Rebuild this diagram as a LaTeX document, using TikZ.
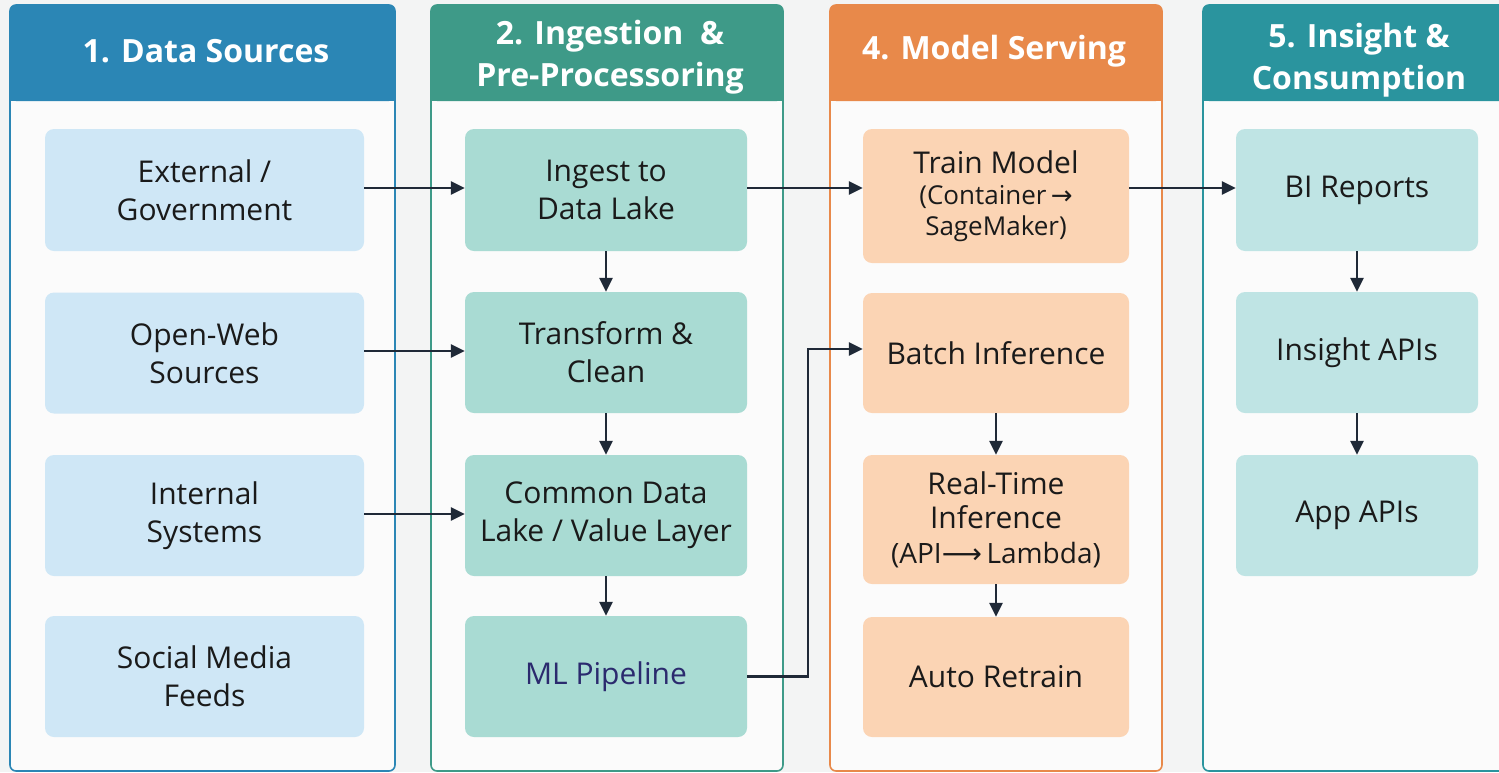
\documentclass[tikz,border=0pt]{standalone}
\usepackage{fontspec}
\setmainfont{Open Sans}
\newfontfamily\symfont{DejaVu Sans}
\usetikzlibrary{arrows.meta}
\definecolor{bgc}{HTML}{F3F4F4}
\definecolor{panelc}{HTML}{FBFBFB}
\definecolor{hA}{HTML}{2B86B5}
\definecolor{hB}{HTML}{3E9A88}
\definecolor{hC}{HTML}{E8894A}
\definecolor{hD}{HTML}{2A949E}
\definecolor{fA}{HTML}{CFE7F6}
\definecolor{fB}{HTML}{A9DBD3}
\definecolor{fC}{HTML}{FBD4B4}
\definecolor{fD}{HTML}{BFE4E4}
\definecolor{arrc}{HTML}{1F2937}
\definecolor{txtc}{HTML}{1A1A1A}
\definecolor{mlc}{HTML}{2B2A6E}
\tikzset{
  boxbase/.style={rounded corners=9pt, align=center, text=txtc, inner sep=0pt,
    font=\fontsize{30}{38}\selectfont},
  boxA/.style={boxbase, fill=fA, minimum width=319pt},
  boxB/.style={boxbase, fill=fB, minimum width=282pt},
  boxC/.style={boxbase, fill=fC, minimum width=266pt},
  boxD/.style={boxbase, fill=fD, minimum width=242pt},
  headtxt/.style={text=white, align=center, font=\bfseries\fontsize{32}{42}\selectfont},
  arr/.style={draw=arrc, line width=2.5pt, -{Triangle[length=14pt,width=13pt]}}
}
\newcommand{\panelbox}[5]{%
  \fill[panelc, rounded corners=6pt] (#1,#2) rectangle (#3,#4);
  \fill[#5, rounded corners=6pt] (#1,#2) rectangle (#3,101);
  \fill[#5] (#1,60) rectangle (#3,101);
  \draw[#5, line width=1.6pt, rounded corners=6pt] (#1,#2) rectangle (#3,#4);
}
\begin{document}
\begin{tikzpicture}[x=1pt,y=-1pt]
\useasboundingbox (0,0) rectangle (1499,772);
\begin{scope}
\clip (0,0) rectangle (1499,772);
\fill[bgc] (0,0) rectangle (1499,772);
\panelbox{10}{5}{395}{771}{hA}
\panelbox{431}{5}{783}{771}{hB}
\panelbox{830}{5}{1162}{771}{hC}
\panelbox{1203}{5}{1530}{771}{hD}
\end{scope}

% headers
\node[headtxt] (hdA) at (206,51) {1. Data Sources};
\node[headtxt] (hdB) at (610,57) {2. Ingestion\ \ \&\\Pre-Processoring};
\node[headtxt] (hdC) at (994,51) {4. Model Serving};
\node[headtxt] (hdD) at (1359,60) {5. Insight \&\\Consumption};

% column 1
\node[boxA, minimum height=122pt] (ext) at (204.5,190) {External /\\Government};
\node[boxA, minimum height=121pt] (web) at (204.5,353) {Open-Web\\Sources};
\node[boxA, minimum height=121pt] (int) at (204.5,515.5) {Internal\\Systems};
\node[boxA, minimum height=121pt] (soc) at (204.5,676.5) {Social Media\\Feeds};

% column 2
\node[boxB, minimum height=122pt] (ing) at (606,190) {Ingest to\\Data Lake};
\node[boxB, minimum height=121pt] (tra) at (606,352.5) {Transform \&\\Clean};
\node[boxB, minimum height=121pt] (com) at (606,515.5) {Common Data\\Lake / Value Layer};
\node[boxB, minimum height=121pt, text=mlc] (ml) at (606,676.5) {ML Pipeline};

% column 3
\node[boxC, minimum height=134pt] (train) at (996,196) {Train Model\\[-7pt]{\fontsize{26}{31}\selectfont (Container{\symfont\,→}}\\[-7pt]{\fontsize{26}{31}\selectfont SageMaker)}};
\node[boxC, minimum height=120pt] (batch) at (996,353) {Batch Inference};
\node[boxC, minimum height=129pt] (rt) at (996,519.5) {Real-Time\\[-4pt]Inference\\[-3pt]{\fontsize{28}{34}\selectfont (API{\symfont ⟶}\,Lambda)}};
\node[boxC, minimum height=120pt] (auto) at (996,677) {Auto Retrain};

% column 4
\node[boxD, minimum height=122pt] (bi) at (1357,190) {BI Reports};
\node[boxD, minimum height=121pt] (iapi) at (1357,352.5) {Insight APIs};
\node[boxD, minimum height=121pt] (aapi) at (1357,515.5) {App APIs};

% connectors
\draw[arr] (ext.east |- 0,188) -- (ing.west |- 0,188);
\draw[arr] (web.east |- 0,351) -- (tra.west |- 0,351);
\draw[arr] (int.east |- 0,514) -- (com.west |- 0,514);
\draw[arr] (ing.east |- 0,188) -- (train.west |- 0,188);
\draw[arr] (train.east |- 0,188) -- (bi.west |- 0,188);
\draw[arr] (ml.east) -- ++(61,0) |- (batch.west |- 0,349);
\draw[arr] (ing.south) -- (tra.north);
\draw[arr] (tra.south) -- (com.north);
\draw[arr] (com.south) -- (ml.north);
\draw[arr] (batch.south) -- (rt.north);
\draw[arr] (rt.south) -- (auto.north);
\draw[arr] (bi.south) -- (iapi.north);
\draw[arr] (iapi.south) -- (aapi.north);
\end{tikzpicture}
\end{document}
